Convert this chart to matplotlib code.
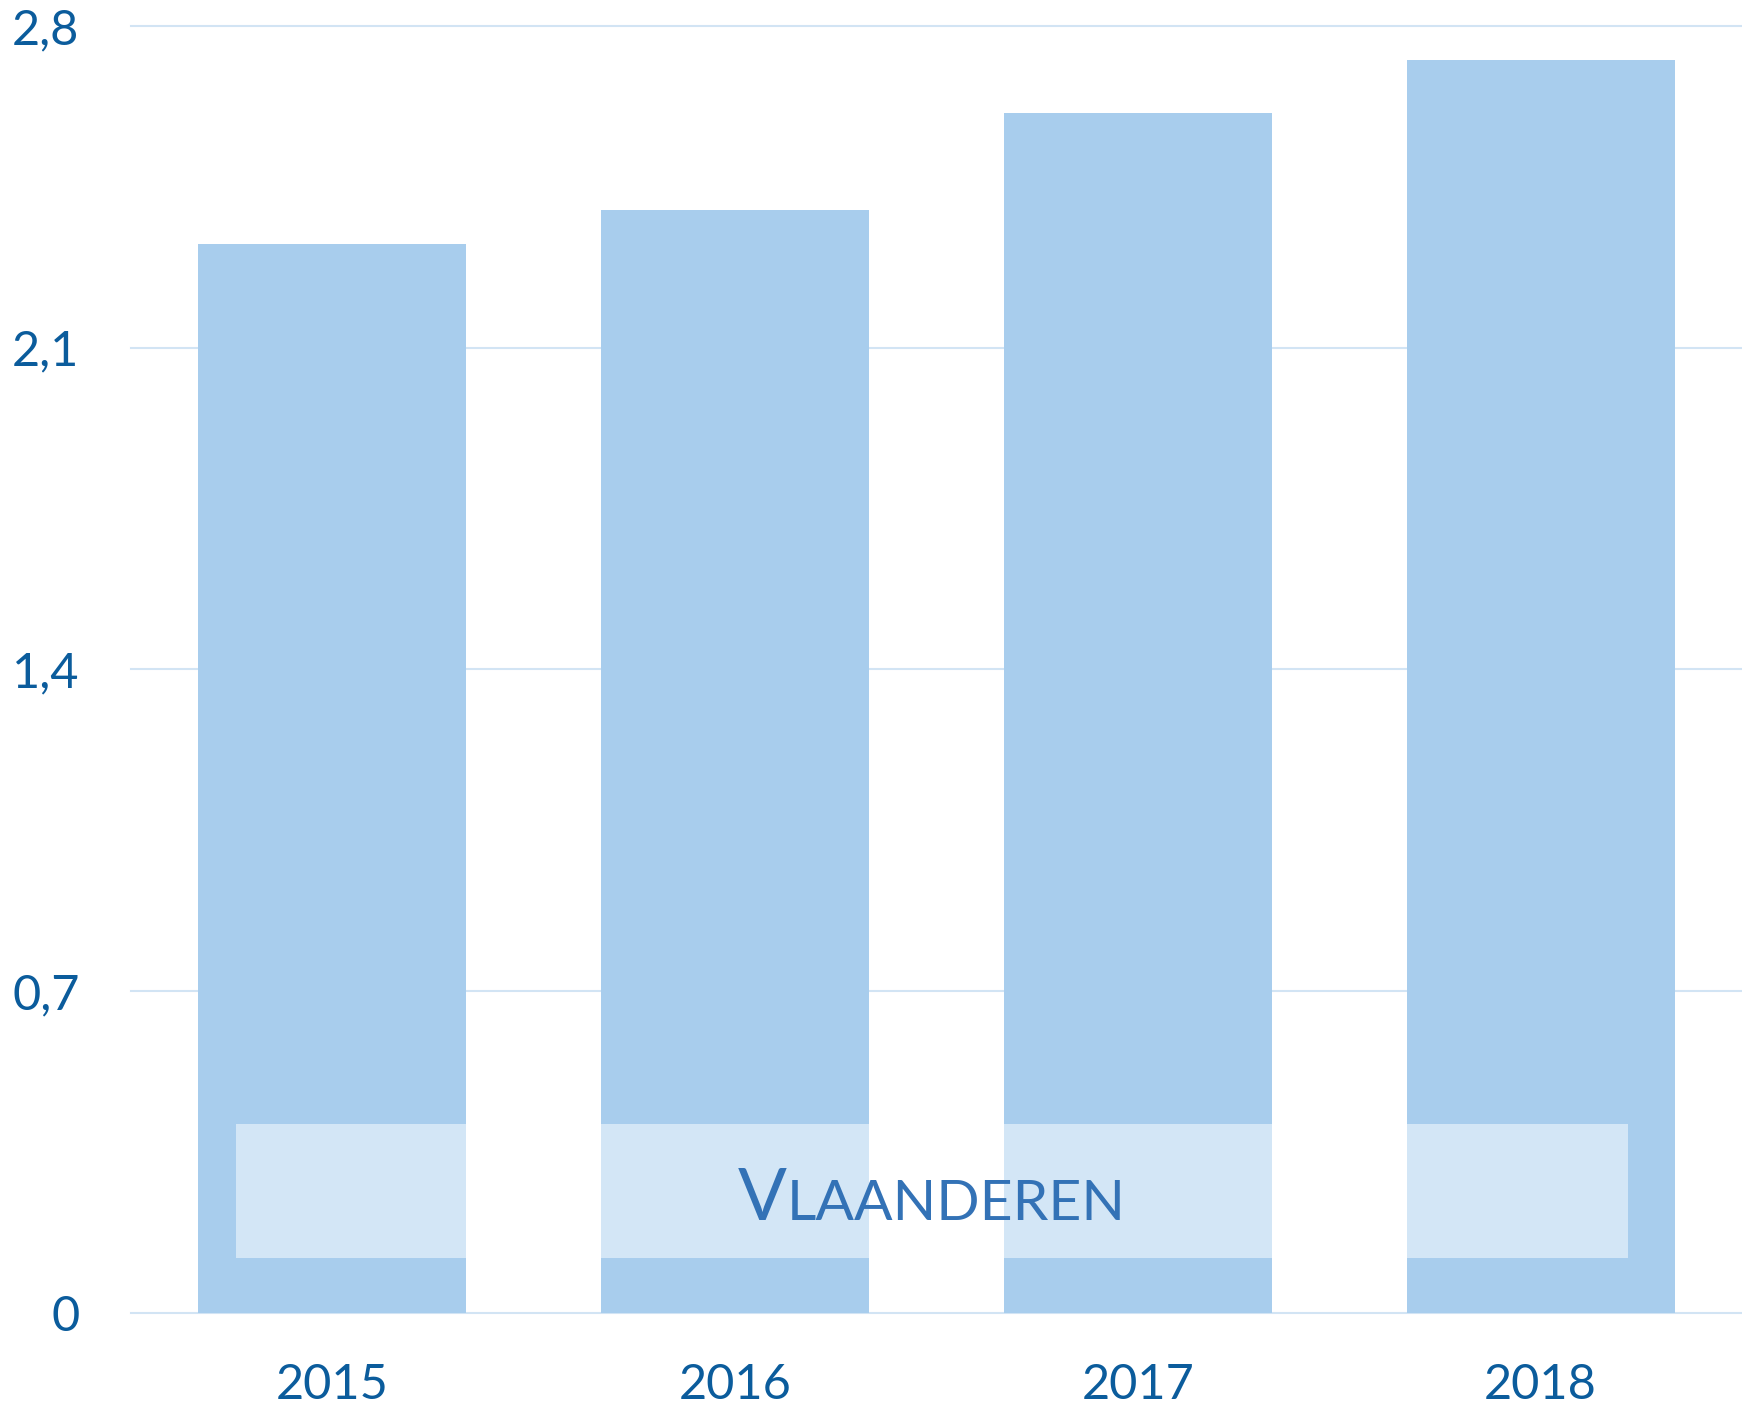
import matplotlib
matplotlib.use('Agg')
import matplotlib.pyplot as plt
from matplotlib.patches import Rectangle

# values
years = ['2015', '2016', '2017', '2018']
values = [2.325, 2.40, 2.61, 2.725]
yticks = [0, 0.7, 1.4, 2.1, 2.8]
ytick_labels = ['0', '0,7', '1,4', '2,1', '2,8']

bar_color = '#A8CDED'
grid_color = '#D2E4F4'
label_color = '#0B5C9C'
text_color = '#3372B6'

plt.rcParams['font.family'] = ['Lato', 'DejaVu Sans']

fig = plt.figure(figsize=(17.42, 14.12), dpi=100)
ax = fig.add_axes([0.0752, 0.0701, 0.9248, 0.9115])

x = list(range(len(years)))
ax.bar(x, values, width=0.665, color=bar_color, zorder=2)
ax.set_xlim(-0.5, 3.5)
ax.set_ylim(0, 2.8)
ax.set_yticks(yticks, ytick_labels)
ax.set_xticks(x, years)
ax.yaxis.grid(True, color=grid_color, lw=1.5)
ax.set_axisbelow(True)
for line in ax.get_ygridlines():
    line.set_clip_on(False)
for s in ax.spines.values():
    s.set_visible(False)
ax.tick_params(length=0, labelsize=35, labelcolor=label_color)
ax.tick_params(axis='y', pad=37)
ax.tick_params(axis='x', pad=36)

# semi-transparent label box over the bars
ax.add_patch(Rectangle((-0.239, 0.12), 3.456, 0.291, facecolor='white',
                       alpha=0.5, edgecolor='none', zorder=3))

# "Vlaanderen" in small caps: big V + smaller rest
renderer = fig.canvas.get_renderer()
t1 = ax.text(0, 0.2024, 'V', fontsize=52, color=text_color, va='baseline', zorder=4)
t2 = ax.text(0, 0.2024, 'LAANDEREN', fontsize=41, color=text_color, va='baseline', zorder=4)
w1 = t1.get_window_extent(renderer).width
w2 = t2.get_window_extent(renderer).width
inv = ax.transData.inverted()
cx = ax.transData.transform((1.489, 0))[0]
left = cx - (w1 + w2) / 2
t1.set_x(inv.transform((left, 0))[0])
t2.set_x(inv.transform((left + w1, 0))[0])

fig.savefig('out.png', dpi=100)
